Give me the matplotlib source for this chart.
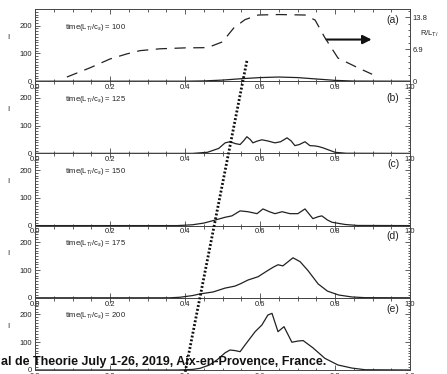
import matplotlib
matplotlib.use("Agg")
import matplotlib.pyplot as plt
import numpy as np
from matplotlib.ticker import MultipleLocator
from matplotlib.lines import Line2D

plt.rcParams['font.family'] = ['Liberation Sans', 'DejaVu Sans']

times = [100, 125, 150, 175, 200]
panel_tags = ['(a)', '(b)', '(c)', '(d)', '(e)']

# R/L_Ti profile (dashed, right axis of panel a)
x_rlt = [0.085, 0.147, 0.2, 0.245, 0.28, 0.333, 0.40, 0.46, 0.50, 0.53, 0.56, 0.595, 0.65, 0.72, 0.747, 0.773, 0.808, 0.861, 0.899]
rlt = [0.9, 2.9, 4.8, 5.9, 6.6, 7.0, 7.2, 7.25, 8.5, 11.5, 13.3, 14.3, 14.4, 14.3, 13.2, 9.4, 5.0, 2.9, 1.5]

# intensity profiles I(r) at each time
x_a = [0.0, 0.40, 0.45, 0.50, 0.55, 0.60, 0.65, 0.70, 0.75, 0.80, 0.85, 1.0]
i_a = [0, 0, 1, 4, 9, 13, 15, 13, 8, 3, 0.5, 0]

x_b = [0, 0.42, 0.46, 0.49, 0.507, 0.52, 0.535, 0.547, 0.556, 0.565, 0.574, 0.581, 0.592, 0.605, 0.62,
       0.64, 0.655, 0.672, 0.683, 0.693, 0.705, 0.72, 0.733, 0.745, 0.755, 0.768, 0.78, 0.80, 0.83, 1.0]
i_b = [0, 0, 4, 18, 38, 42, 35, 32, 45, 60, 50, 38, 44, 49, 45,
       38, 42, 56, 45, 28, 32, 42, 28, 27, 25, 20, 14, 4, 0.5, 0]

x_c = [0, 0.38, 0.42, 0.45, 0.475, 0.507, 0.525, 0.547, 0.568, 0.592, 0.608, 0.625, 0.64, 0.659, 0.68,
       0.701, 0.72, 0.732, 0.741, 0.755, 0.765, 0.78, 0.792, 0.827, 0.86, 1.0]
i_c = [0, 0, 3, 9, 18, 30, 35, 53, 50, 43, 60, 50, 43, 50, 43,
       43, 60, 40, 25, 32, 35, 20, 12, 4, 0.5, 0]

x_d = [0, 0.36, 0.387, 0.42, 0.44, 0.475, 0.507, 0.533, 0.547, 0.568, 0.595, 0.618, 0.635, 0.648, 0.661,
       0.688, 0.707, 0.728, 0.755, 0.78, 0.81, 0.845, 0.88, 1.0]
i_d = [0, 0, 2, 8, 14, 21, 35, 42, 50, 64, 76, 96, 110, 119, 115,
       144, 130, 98, 50, 24, 10, 3, 0.5, 0]

x_e = [0, 0.38, 0.42, 0.44, 0.465, 0.485, 0.507, 0.52, 0.533, 0.547, 0.56, 0.587, 0.605, 0.621, 0.632,
       0.648, 0.664, 0.685, 0.70, 0.715, 0.741, 0.773, 0.808, 0.845, 0.88, 1.0]
i_e = [0, 0, 2, 6, 18, 36, 62, 72, 70, 66, 90, 138, 162, 198, 204,
       138, 156, 100, 104, 106, 80, 42, 18, 7, 1, 0]

profiles = [(x_a, i_a), (x_b, i_b), (x_c, i_c), (x_d, i_d), (x_e, i_e)]

# front position: top point in panel a, bottom point in panel e
front_top = (0.565, 73)
front_bottom = (0.400, -10)

xticks = [0.0, 0.2, 0.4, 0.6, 0.8, 1.0]
yticks = [0, 100, 200]
rticks = [0, 6.9, 13.8]

W, H = 447, 374
fig = plt.figure(figsize=(W / 100, H / 100), dpi=100)

left_px, right_px = 35, 410
top_px, ph = 9, 72.2
axc = '#444444'
fs = 5.5

axes = []
for k in range(5):
    t = top_px + ph * k
    ax = fig.add_axes([left_px / W, 1 - (t + ph) / H, (right_px - left_px) / W, ph / H])
    axes.append(ax)
    xs, ys = profiles[k]
    ax.plot(xs, ys, color='#222222', lw=0.9)
    ax.set_xlim(0, 1)
    ax.set_ylim(0, 260)
    ax.set_xticks(xticks)
    ax.set_xticklabels(['%.1f' % v for v in xticks])
    ax.set_yticks(yticks)
    ax.xaxis.set_minor_locator(MultipleLocator(0.05))
    ax.yaxis.set_minor_locator(MultipleLocator(10))
    ax.tick_params(which='both', direction='in', top=True, right=(k > 0), colors=axc,
                   labelcolor='#222222', labelsize=fs, width=0.6, pad=2)
    ax.tick_params(which='major', length=3.5)
    ax.tick_params(which='minor', length=1.8)
    for s in ax.spines.values():
        s.set_color(axc)
        s.set_linewidth(0.7)
    ax.set_ylabel('I', rotation=0, fontsize=fs, color='#222222')
    ax.yaxis.set_label_coords(-0.072, 0.56)
    ax.text(0.08, 195, 'time(L$_{Ti}$/c$_s$) = %d' % times[k], fontsize=fs, color='#222222', va='center')
    ty = 0.85 if k != 1 else 0.77
    ax.text(0.955, ty, panel_tags[k], transform=ax.transAxes, fontsize=7.5, ha='center', va='center',
            color='#222222')
    ax.patch.set_alpha(0)

# right axis of panel a
ax_a = axes[0]
tw = ax_a.twinx()
tw.plot(x_rlt, rlt, color='#222222', lw=0.9, dashes=(9, 6))
tw.set_ylim(0, 15.6)
tw.set_yticks(rticks)
tw.set_yticklabels(['0', '6.9', '13.8'])
tw.yaxis.set_minor_locator(MultipleLocator(1.38))
tw.tick_params(which='both', direction='in', colors=axc, labelcolor='#222222', labelsize=fs,
               width=0.6, pad=2)
tw.tick_params(which='major', length=3.5)
tw.tick_params(which='minor', length=1.8)
for s in tw.spines.values():
    s.set_visible(False)
tw.text(1.027, 0.66, 'R/L$_{Ti}$', transform=ax_a.transAxes, fontsize=fs, color='#222222',
        va='center', ha='left')

ax_a.annotate('', xy=(0.905, 150), xytext=(0.77, 150),
              arrowprops=dict(arrowstyle='-|>', lw=1.5, color='#111111', mutation_scale=13))

# dotted front line across the panels, from data points to figure coordinates
p_top = fig.transFigure.inverted().transform(axes[0].transData.transform(front_top))
p_bot = fig.transFigure.inverted().transform(axes[4].transData.transform(front_bottom))
front = Line2D([p_top[0], p_bot[0]], [p_top[1], p_bot[1]], transform=fig.transFigure,
               color='#111111', lw=2.0, dashes=(0.7, 0.7), dash_capstyle='butt')
fig.add_artist(front)

fig.text(0.002, 1 - 362 / H, 'al de Theorie July 1-26, 2019, Aix-en-Provence, France.',
         fontsize=9.0, fontweight='bold', color='#111111', va='center', ha='left')

fig.savefig('out.png', dpi=100)
